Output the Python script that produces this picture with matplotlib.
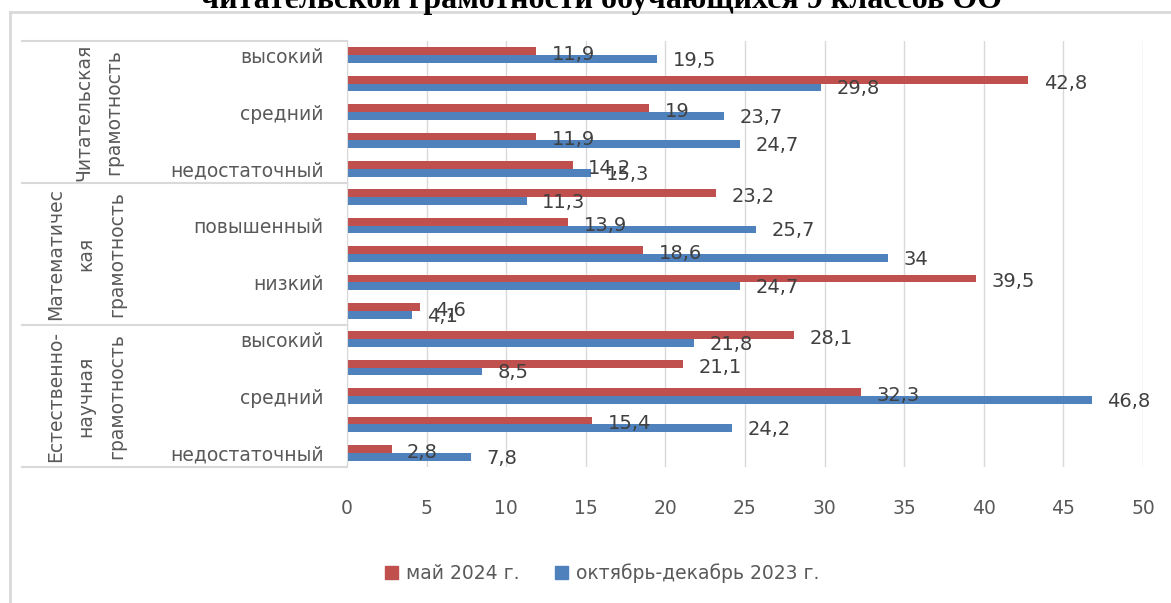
import numpy as np
import matplotlib
matplotlib.use('Agg')
import matplotlib.pyplot as plt
from matplotlib.patches import Patch
from matplotlib.lines import Line2D

plt.rcParams['font.family'] = ['DejaVu Sans']

# data, top to bottom
groups = ['Читательская\nграмотность',
          'Математичес\nкая\nграмотность',
          'Естественно-\nнаучная\nграмотность']
levels = ['высокий', 'повышенный', 'средний', 'низкий', 'недостаточный']

may_2024 = [11.9, 42.8, 19, 11.9, 14.2,
            23.2, 13.9, 18.6, 39.5, 4.6,
            28.1, 21.1, 32.3, 15.4, 2.8]
oct_dec_2023 = [19.5, 29.8, 23.7, 24.7, 15.3,
                11.3, 25.7, 34, 24.7, 4.1,
                21.8, 8.5, 46.8, 24.2, 7.8]

leg_txt = ['май 2024 г.', 'октябрь-декабрь 2023 г.']
title = 'читательской грамотности обучающихся 9 классов ОО'

red = '#C0504D'
blue = '#4F81BD'
grey_txt = '#595959'
line_col = '#D9D9D9'

W, H = 1171, 603
fig = plt.figure(figsize=(W/100, H/100), dpi=100)

# outer chart border (only top and left edges are in the picture)
fig.add_artist(Line2D([10/W, 1], [1 - 12/H, 1 - 12/H], color=line_col, linewidth=2))
fig.add_artist(Line2D([10/W, 10/W], [0, 1 - 12/H], color=line_col, linewidth=2))
fig.text(602/W, 1 - 8/H, title, ha='center', va='baseline', fontsize=23,
         fontweight='bold', family='Liberation Serif', color='black')

x0, x1, y0, y1 = 347, 1143, 41, 467
ax = fig.add_axes([x0/W, 1 - y1/H, (x1 - x0)/W, (y1 - y0)/H])

n = len(may_2024)
y = np.arange(n)
h = 0.27
off = 0.137
ax.barh(y - off, may_2024, height=h, color=red, label=leg_txt[0])
ax.barh(y + off, oct_dec_2023, height=h, color=blue, label=leg_txt[1])

for i in range(n):
    ax.annotate(f'{may_2024[i]:g}'.replace('.', ','), (may_2024[i], y[i] - off + 0.12),
                xytext=(11, 0), textcoords='offset points', va='center', ha='left',
                fontsize=14, color='#404040')
    ax.annotate(f'{oct_dec_2023[i]:g}'.replace('.', ','), (oct_dec_2023[i], y[i] + off + 0.05),
                xytext=(11, 0), textcoords='offset points', va='center', ha='left',
                fontsize=14, color='#404040')

ax.set_xlim(0, 50)
ax.set_ylim(n - 0.5, -0.5)
ax.set_xticks(np.arange(0, 51, 5))
ax.set_yticks(y)
ax.set_yticklabels([lv if k % 2 == 0 else '' for k, lv in enumerate(levels * 3)])
ax.tick_params(axis='both', length=0, labelsize=13.5, colors=grey_txt)
ax.tick_params(axis='x', pad=23)
ax.tick_params(axis='y', pad=17)
ax.grid(axis='x', color=line_col, linewidth=1)
ax.set_axisbelow(True)
for s in ['top', 'right', 'bottom']:
    ax.spines[s].set_visible(False)
ax.spines['left'].set_color(line_col)

# category table lines and group labels
tr = ax.get_yaxis_transform()
xl = (22 - x0)/(x1 - x0)
for yy in [-0.5, 4.5, 9.5, 14.5]:
    ax.plot([xl, 0], [yy, yy], transform=tr, color=line_col, linewidth=1.5, clip_on=False)
gx = [99, 86, 86]
for g, name in enumerate(groups):
    ax.text((gx[g] - x0)/(x1 - x0), 5*g + 2, name, transform=tr, rotation=90,
            ha='center', va='center', multialignment='center', fontsize=13.5,
            color=grey_txt, linespacing=1.75)

fig.legend(handles=[Patch(color=red), Patch(color=blue)], labels=leg_txt,
           loc='center', bbox_to_anchor=(602/W, 1 - 573/H), ncol=2, frameon=False,
           fontsize=13.5, handlelength=0.7, handleheight=0.7, handletextpad=0.4,
           columnspacing=1.9, labelcolor=grey_txt)

fig.savefig('out.png', dpi=100)
